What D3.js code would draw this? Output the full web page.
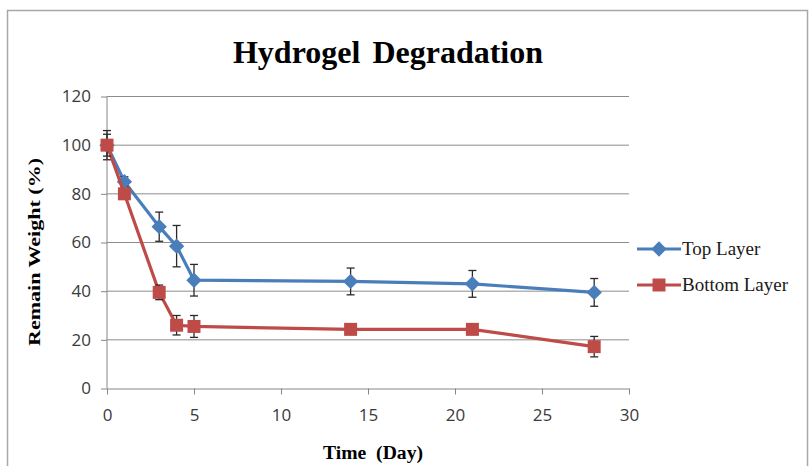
<!DOCTYPE html>
<html>
<head>
<meta charset="utf-8">
<script src="https://cdn.jsdelivr.net/npm/d3@7"></script>
<style>
  body { margin: 0; background: #fff; }
  svg { display: block; }
  .axis path, .axis line { stroke: #868686; }
  .axis text { font-family: "Open Sans", "Liberation Sans", sans-serif; font-size: 17px; fill: #3a3a3a; }
</style>
</head>
<body>
<div id="chart"></div>
<script>
// data
const days = [0, 1, 3, 4, 5, 14, 21, 28];
const topLayer = [100, 85, 66.5, 58.5, 44.5, 44, 43, 39.5];
const topErr = [6, 2, 6, 8.5, 6.5, 5.5, 5.5, 5.7];
const bottomLayer = [100, 80, 39.5, 26, 25.5, 24.3, 24.3, 17.2];
const bottomErr = [4.5, 1.5, 3, 4, 4.5, 1.5, 1, 4.2];
const yTicks = [0, 20, 40, 60, 80, 100, 120];
const xTicks = [0, 5, 10, 15, 20, 25, 30];
const seriesNames = ["Top Layer", "Bottom Layer"];
const seriesColors = ["#4a7ebb", "#be4b48"];

const width = 811, height = 466;
const margin = {top: 96.5, left: 107, right: 182, bottom: 77.5};
const innerW = width - margin.left - margin.right;
const innerH = height - margin.top - margin.bottom;

const svg = d3.select("#chart").append("svg")
  .attr("width", width)
  .attr("height", height);

// outer frame
svg.append("rect")
  .attr("x", 7.5).attr("y", 10.5)
  .attr("width", 800).attr("height", 480)
  .attr("fill", "none")
  .attr("stroke", "#a8a8a8")
  .attr("stroke-width", 1.5);

const g = svg.append("g")
  .attr("transform", "translate(" + margin.left + "," + margin.top + ")");

const x = d3.scaleLinear().domain([0, 30]).range([0, innerW]);
const y = d3.scaleLinear().domain([0, 120]).range([innerH, 0]);

// gridlines
g.append("g")
  .selectAll("line")
  .data(yTicks.filter(d => d > 0))
  .join("line")
  .attr("x1", 0).attr("x2", innerW)
  .attr("y1", d => y(d)).attr("y2", d => y(d))
  .attr("stroke", "#8c8c8c")
  .attr("stroke-width", 1);

// axes
const yAxis = g.append("g")
  .attr("class", "axis")
  .call(d3.axisLeft(y).tickValues(yTicks).tickSize(6).tickSizeOuter(0).tickPadding(10));
yAxis.select(".domain").attr("d", "M0," + innerH + "V0");

const xAxis = g.append("g")
  .attr("class", "axis")
  .attr("transform", "translate(0," + innerH + ")")
  .call(d3.axisBottom(x).tickValues(xTicks).tickSize(6).tickSizeOuter(0).tickPadding(14));

// series
const rows = [
  days.map((d, i) => ({day: d, v: topLayer[i], e: topErr[i]})),
  days.map((d, i) => ({day: d, v: bottomLayer[i], e: bottomErr[i]}))
];

const line = d3.line().x(d => x(d.day)).y(d => y(d.v));
const diamond = d3.symbol().type(d3.symbolDiamond2).size(150);
const square = d3.symbol().type(d3.symbolSquare2).size(215);

rows.forEach((data, s) => {
  const sg = g.append("g");

  sg.append("path")
    .datum(data)
    .attr("d", line)
    .attr("fill", "none")
    .attr("stroke", seriesColors[s])
    .attr("stroke-width", 3.2);

  // error bars
  const eb = sg.selectAll(".err")
    .data(data)
    .join("g")
    .attr("stroke", "#2a2a2a")
    .attr("stroke-width", 1.3);
  eb.append("line")
    .attr("x1", d => x(d.day)).attr("x2", d => x(d.day))
    .attr("y1", d => y(d.v + d.e)).attr("y2", d => y(d.v - d.e));
  eb.append("line")
    .attr("x1", d => x(d.day) - 4).attr("x2", d => x(d.day) + 4)
    .attr("y1", d => y(d.v + d.e)).attr("y2", d => y(d.v + d.e));
  eb.append("line")
    .attr("x1", d => x(d.day) - 4).attr("x2", d => x(d.day) + 4)
    .attr("y1", d => y(d.v - d.e)).attr("y2", d => y(d.v - d.e));

  sg.selectAll(".mark")
    .data(data)
    .join("path")
    .attr("transform", d => "translate(" + x(d.day) + "," + y(d.v) + ")")
    .attr("d", s === 0 ? diamond : square)
    .attr("fill", seriesColors[s]);
});

// title
svg.append("text")
  .attr("x", 388).attr("y", 63)
  .attr("text-anchor", "middle")
  .style("font-family", "'Liberation Serif', 'DejaVu Serif', serif")
  .style("font-weight", "bold")
  .style("font-size", "32px")
  .style("word-spacing", "4px")
  .text("Hydrogel Degradation");

// axis titles
svg.append("text")
  .attr("transform", "translate(40,252) rotate(-90)")
  .attr("text-anchor", "middle")
  .attr("textLength", 188)
  .attr("lengthAdjust", "spacingAndGlyphs")
  .style("font-family", "'Liberation Serif', serif")
  .style("font-weight", "bold")
  .style("font-size", "16px")
  .text("Remain Weight (%)");

svg.append("text")
  .attr("x", 373).attr("y", 459)
  .attr("text-anchor", "middle")
  .attr("textLength", 100)
  .attr("lengthAdjust", "spacingAndGlyphs")
  .style("font-family", "'Liberation Serif', serif")
  .style("font-weight", "bold")
  .style("font-size", "18px")
  .style("white-space", "pre")
  .text("Time  (Day)");

// legend
const legend = svg.append("g")
  .attr("transform", "translate(637,249)");
seriesNames.forEach((name, i) => {
  const lg = legend.append("g").attr("transform", "translate(0," + (i * 36) + ")");
  lg.append("line")
    .attr("x1", 0).attr("x2", 44)
    .attr("stroke", seriesColors[i])
    .attr("stroke-width", 3.2);
  lg.append("path")
    .attr("transform", "translate(22,0)")
    .attr("d", i === 0 ? diamond : square)
    .attr("fill", seriesColors[i]);
  lg.append("text")
    .attr("x", 45).attr("y", 6)
    .style("font-family", "'Liberation Serif', serif")
    .style("font-size", "19px")
    .attr("fill", "#1a1a1a")
    .text(name);
});
</script>
</body>
</html>
